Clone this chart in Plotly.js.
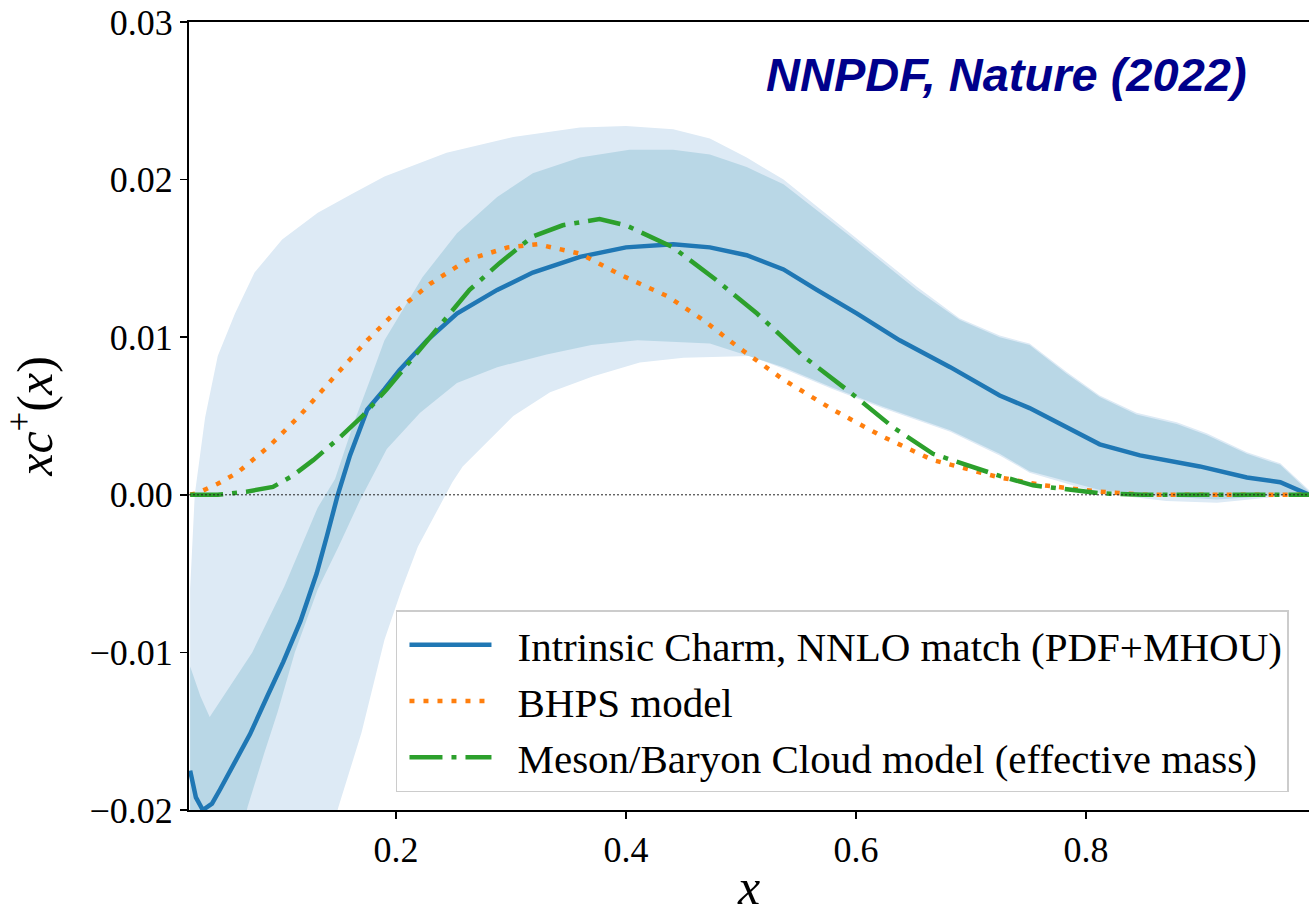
<!DOCTYPE html>
<html>
<head>
<meta charset="utf-8">
<script src="https://cdn.plot.ly/plotly-3.0.1.min.js"></script>
<style>html,body{margin:0;padding:0;background:#fff;}</style>
</head>
<body>
<div id="chart" style="width:1309px;height:919px;"></div>
<script>
// ---- Data ----
const icX = [0.021,0.026,0.032,0.040,0.047,0.060,0.073,0.088,0.102,0.117,0.131,0.140,0.149,0.160,0.175,0.190,0.203,0.227,0.253,0.288,0.319,0.360,0.400,0.441,0.473,0.505,0.537,0.566,0.601,0.638,0.682,0.725,0.751,0.812,0.847,0.899,0.940,0.969,0.994];
const icY = [-0.0175,-0.0192,-0.0200,-0.0196,-0.0187,-0.0170,-0.0152,-0.0128,-0.0106,-0.0080,-0.0050,-0.0026,-0.0001,0.0025,0.0054,0.0067,0.0079,0.0098,0.0115,0.0130,0.0141,0.0151,0.0157,0.0159,0.0157,0.0152,0.0143,0.0130,0.0115,0.0098,0.0081,0.0063,0.0055,0.0032,0.0025,0.0018,0.0011,0.0008,0.0000];

const innerUpX = [0.021,0.030,0.038,0.055,0.075,0.103,0.132,0.147,0.163,0.177,0.190,0.223,0.253,0.288,0.319,0.360,0.403,0.441,0.473,0.505,0.537,0.595,0.653,0.690,0.725,0.751,0.783,0.812,0.844,0.879,0.905,0.940,0.969,0.994];
const innerUpY = [-0.0109,-0.0128,-0.0141,-0.0122,-0.0100,-0.0058,-0.0008,0.0010,0.0045,0.0072,0.0098,0.0138,0.0166,0.0189,0.0204,0.0214,0.0219,0.0219,0.0216,0.0208,0.0197,0.0164,0.0130,0.0111,0.0100,0.0095,0.0077,0.0062,0.0051,0.0045,0.0038,0.0026,0.0019,0.0002];

const innerLoX = [0.021,0.045,0.060,0.071,0.085,0.097,0.112,0.132,0.150,0.169,0.192,0.221,0.253,0.288,0.331,0.370,0.410,0.473,0.537,0.580,0.623,0.682,0.725,0.751,0.812,0.870,0.914,0.969,0.994];
const innerLoY = [-0.030,-0.027,-0.023,-0.0198,-0.0165,-0.0138,-0.0100,-0.0060,-0.0033,-0.0003,0.0029,0.0052,0.0071,0.0081,0.0089,0.0095,0.0098,0.0096,0.0081,0.0068,0.0056,0.0041,0.0026,0.0015,0.0003,-0.0001,-0.0003,0.0000,0.0001];

const outerUpX = [0.021,0.025,0.034,0.045,0.060,0.077,0.101,0.132,0.162,0.190,0.244,0.302,0.360,0.400,0.441,0.473,0.505,0.537,0.595,0.653,0.690,0.725,0.751,0.783,0.812,0.844,0.879,0.905,0.940,0.969,0.994];
const outerUpY = [-0.006,0.0000,0.0049,0.0088,0.0115,0.0141,0.0162,0.0179,0.0191,0.0202,0.0217,0.0227,0.0233,0.0234,0.0232,0.0226,0.0214,0.0200,0.0166,0.0132,0.0112,0.0101,0.0096,0.0078,0.0063,0.0052,0.0046,0.0039,0.0027,0.0020,0.0003];

const outerLoX = [0.021,0.060,0.100,0.130,0.150,0.170,0.190,0.205,0.219,0.232,0.249,0.258,0.302,0.334,0.360,0.371,0.412,0.450,0.508,0.537,0.580,0.623,0.682,0.725,0.751,0.812,0.870,0.914,0.969,0.994];
const outerLoY = [-0.045,-0.040,-0.032,-0.025,-0.0198,-0.0151,-0.0092,-0.0060,-0.0033,-0.0015,0.0008,0.0018,0.0050,0.0065,0.0072,0.0075,0.0084,0.0087,0.0088,0.0080,0.0067,0.0055,0.0040,0.0025,0.0014,0.0001,-0.0004,-0.0005,-0.0001,0.0000];

const bhpsX = [0.021,0.027,0.045,0.062,0.090,0.116,0.149,0.175,0.201,0.230,0.262,0.297,0.323,0.360,0.397,0.436,0.467,0.497,0.537,0.580,0.623,0.667,0.725,0.763,0.812,0.850,0.994];
const bhpsY = [0.0000,0.0001,0.0007,0.0014,0.0031,0.0050,0.0077,0.0098,0.0117,0.0134,0.0149,0.0157,0.0159,0.0153,0.0139,0.0126,0.0111,0.0094,0.0073,0.0054,0.0037,0.0022,0.0011,0.0006,0.0002,0.0000,0.0000];

const mbcX = [0.021,0.045,0.070,0.093,0.110,0.128,0.149,0.171,0.192,0.215,0.238,0.264,0.290,0.319,0.345,0.377,0.400,0.441,0.479,0.514,0.554,0.595,0.632,0.667,0.725,0.754,0.812,0.850,0.994];
const mbcY = [0.0000,0.0000,0.0002,0.0005,0.0012,0.0022,0.0035,0.0050,0.0067,0.0087,0.0107,0.0130,0.0147,0.0164,0.0171,0.0175,0.0171,0.0157,0.0136,0.0115,0.0088,0.0065,0.0043,0.0026,0.0012,0.0006,0.0001,0.0000,0.0000];

const seriesNames = ['Intrinsic Charm, NNLO match (PDF+MHOU)', 'BHPS model', 'Meson/Baryon Cloud model (effective mass)'];
const xTickVals = [0.2, 0.4, 0.6, 0.8];
const xTickText = ['0.2', '0.4', '0.6', '0.8'];
const yTickVals = [-0.02, -0.01, 0.00, 0.01, 0.02, 0.03];
const yTickText = ['\u22120.02', '\u22120.01', '0.00', '0.01', '0.02', '0.03'];
const sourceLabel = 'NNPDF, Nature (2022)';

// ---- Traces ----
const serif = 'Liberation Serif, Times New Roman, serif';
const traces = [
  {x: outerLoX, y: outerLoY, mode: 'lines', line: {width: 0, color: 'rgba(0,0,0,0)'}, showlegend: false, hoverinfo: 'skip'},
  {x: outerUpX, y: outerUpY, mode: 'lines', line: {width: 0, color: 'rgba(0,0,0,0)'}, fill: 'tonexty', fillcolor: 'rgb(221,234,245)', showlegend: false, hoverinfo: 'skip'},
  {x: innerLoX, y: innerLoY, mode: 'lines', line: {width: 0, color: 'rgba(0,0,0,0)'}, showlegend: false, hoverinfo: 'skip'},
  {x: innerUpX, y: innerUpY, mode: 'lines', line: {width: 0, color: 'rgba(0,0,0,0)'}, fill: 'tonexty', fillcolor: 'rgb(185,215,230)', showlegend: false, hoverinfo: 'skip'},
  {x: icX, y: icY, mode: 'lines', name: seriesNames[0], line: {color: '#1f77b4', width: 4.5}},
  {x: bhpsX, y: bhpsY, mode: 'lines', name: seriesNames[1], line: {color: '#ff7f0e', width: 4.5, dash: '5px,9px'}},
  {x: mbcX, y: mbcY, mode: 'lines', name: seriesNames[2], line: {color: '#2ca02c', width: 4.5, dash: '33px,9px,5px,9px'}}
];

const layout = {
  width: 1309, height: 919,
  margin: {l: 189, r: 0, t: 22, b: 109},
  paper_bgcolor: '#ffffff', plot_bgcolor: '#ffffff',
  showlegend: true,
  xaxis: {
    range: [0.02, 0.994], tickvals: xTickVals, ticktext: xTickText,
    ticks: 'outside', ticklen: 7, tickwidth: 1.5, tickcolor: '#000',
    showline: true, linewidth: 2, linecolor: '#000', mirror: true,
    showgrid: false, zeroline: false,
    tickfont: {family: serif, size: 36, color: '#000'},
    title: {text: '<i>x</i>', font: {family: serif, size: 50, color: '#000'}, standoff: 0}
  },
  yaxis: {
    range: [-0.02, 0.03], tickvals: yTickVals, ticktext: yTickText,
    ticks: 'outside', ticklen: 7, tickwidth: 1.5, tickcolor: '#000',
    showline: true, linewidth: 2, linecolor: '#000', mirror: false,
    showgrid: false, zeroline: false,
    tickfont: {family: serif, size: 36, color: '#000'},
    title: {text: '<i>xc</i><sup>+</sup>(<i>x</i>)', font: {family: serif, size: 50, color: '#000'}, standoff: 34}
  },
  legend: {
    x: 0.1848, y: 0.0228, xanchor: 'left', yanchor: 'bottom',
    traceorder: 'normal',
    bgcolor: 'rgba(255,255,255,0.85)', bordercolor: '#cccccc', borderwidth: 1.5,
    font: {family: serif, size: 41, color: '#000'},
    itemwidth: 110, tracegroupgap: 0
  },
  shapes: [
    {type: 'line', xref: 'paper', x0: 0, x1: 1, yref: 'y', y0: 0, y1: 0,
     line: {color: '#222', width: 1, dash: '2px,2px'}, layer: 'above'}
  ],
  annotations: [
    {text: '<b><i>' + sourceLabel + '</i></b>', xref: 'paper', yref: 'paper', x: 0.730, y: 0.933,
     xanchor: 'center', yanchor: 'middle', showarrow: false,
     font: {family: 'Liberation Sans, Arial, sans-serif', size: 47, color: '#00008B'}}
  ]
};

Plotly.newPlot('chart', traces, layout, {staticPlot: true, displayModeBar: false}).then(function (gd) {
  // lengthen the legend line samples to match the reference
  gd.querySelectorAll('.legend .legendlines path').forEach(function (p) {
    p.setAttribute('d', 'M12,0h82');
  });
});
</script>
</body>
</html>
